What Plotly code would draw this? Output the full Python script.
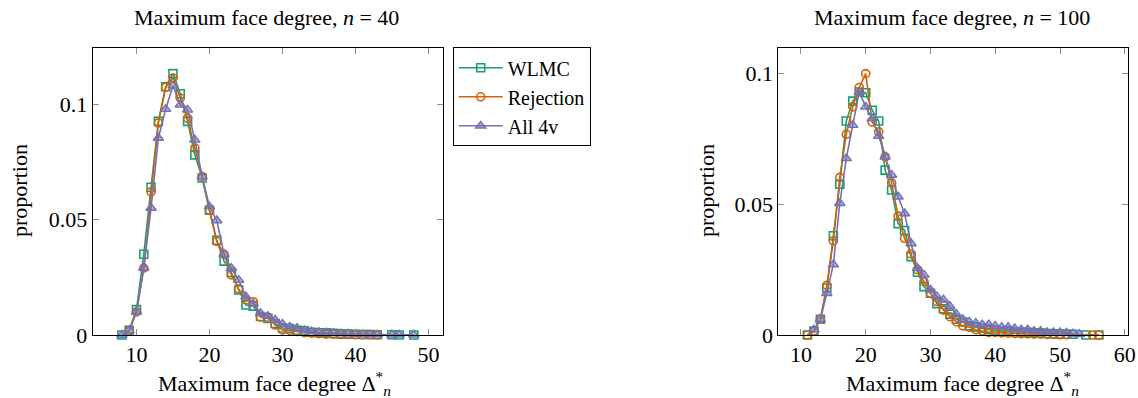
import plotly.graph_objects as go

# ---- n = 40 ----
x40_wlmc = list(range(8, 44)) + [45, 46, 48]
y40_wlmc = [0.0, 0.002, 0.011, 0.035, 0.064, 0.0925, 0.1075, 0.1132, 0.1045, 0.0925,
            0.078, 0.068, 0.054, 0.041, 0.032, 0.027, 0.0195, 0.013, 0.0125, 0.008,
            0.0072, 0.005, 0.003, 0.0028, 0.002, 0.0018, 0.0012, 0.001, 0.0009, 0.0007,
            0.0005, 0.0004, 0.0003, 0.0002, 0.0002, 0.0001, 0.0001, 0.0, 0.0]

x40_rej = list(range(9, 44))
y40_rej = [0.002, 0.010, 0.029, 0.062, 0.0918, 0.1073, 0.1113, 0.1026, 0.0939, 0.0809,
           0.0686, 0.054, 0.0405, 0.035, 0.026, 0.020, 0.0152, 0.0144, 0.0077, 0.0077,
           0.0043, 0.0022, 0.002, 0.0015, 0.001, 0.0008, 0.0006, 0.0004, 0.0003, 0.0002,
           0.0002, 0.0001, 0.0001, 0.0001, 0.0001]

x40_all = list(range(8, 44)) + [45, 46, 48]
y40_all = [0.0, 0.002, 0.010, 0.029, 0.055, 0.0853, 0.0978, 0.1079, 0.0997, 0.0975,
           0.0845, 0.0686, 0.0556, 0.0496, 0.035, 0.0289, 0.0238, 0.0166, 0.0136, 0.0094,
           0.0082, 0.0065, 0.0048, 0.0035, 0.003, 0.002, 0.0015, 0.0012, 0.001, 0.0008,
           0.0006, 0.0005, 0.0004, 0.0003, 0.0002, 0.0002, 0.0001, 0.0001, 0.0001]

# ---- n = 100 ----
x100_wlmc = list(range(11, 53)) + [54, 56]
y100_wlmc = [0.0, 0.0015, 0.006, 0.018, 0.038, 0.0577, 0.0819, 0.0895, 0.093, 0.0927,
             0.086, 0.0819, 0.0631, 0.0555, 0.0426, 0.040, 0.030, 0.024, 0.0185, 0.016,
             0.012, 0.010, 0.008, 0.006, 0.005, 0.0035, 0.003, 0.0025, 0.002, 0.0018,
             0.0015, 0.0015, 0.0012, 0.001, 0.001, 0.0008, 0.0007, 0.0006, 0.0005, 0.0004,
             0.0003, 0.0003, 0.0, 0.0]

x100_rej = list(range(11, 52)) + [55, 56]
y100_rej = [0.0, 0.0015, 0.006, 0.019, 0.036, 0.0603, 0.0768, 0.0873, 0.0947, 0.1,
            0.0815, 0.0777, 0.0682, 0.0582, 0.0455, 0.037, 0.031, 0.025, 0.0204, 0.016,
            0.0128, 0.0095, 0.007, 0.005, 0.0035, 0.003, 0.002, 0.0015, 0.001, 0.001,
            0.0008, 0.0007, 0.0006, 0.0005, 0.0004, 0.0003, 0.0003, 0.0002, 0.0002, 0.0001,
            0.0001, 0.0, 0.0]

x100_all = list(range(12, 54))
y100_all = [0.002, 0.006, 0.016, 0.027, 0.0504, 0.0676, 0.0803, 0.093, 0.0873, 0.0828,
            0.0761, 0.0682, 0.0612, 0.0529, 0.0465, 0.035, 0.0255, 0.023, 0.0173, 0.0147,
            0.0135, 0.011, 0.008, 0.006, 0.005, 0.0045, 0.004, 0.004, 0.0035, 0.003,
            0.003, 0.0025, 0.002, 0.002, 0.0015, 0.0015, 0.001, 0.001, 0.001, 0.0008,
            0.0005, 0.0003]

series_names = ["WLMC", "Rejection", "All 4v"]
colors = ["#1b9e77", "#d95f02", "#7570b3"]
FONT = "Liberation Serif"
FS = 22

panels = [
    ("x", "y", [(x40_wlmc, y40_wlmc), (x40_rej, y40_rej), (x40_all, y40_all)]),
    ("x2", "y2", [(x100_wlmc, y100_wlmc), (x100_rej, y100_rej), (x100_all, y100_all)]),
]

marker_styles = [
    dict(symbol="square-open", size=8, line=dict(width=1.6, color=colors[0])),
    dict(symbol="circle-open", size=8, line=dict(width=1.6, color=colors[1])),
    dict(symbol="triangle-up", size=9, color="rgba(117,112,179,0.55)",
         line=dict(width=1.4, color=colors[2])),
]

fig = go.Figure()
for p, (xa, ya, data) in enumerate(panels):
    for i, (xs, ys) in enumerate(data):
        m = dict(marker_styles[i])
        if "color" not in m:
            m["color"] = colors[i]
        fig.add_trace(go.Scatter(
            x=xs, y=ys, xaxis=xa, yaxis=ya, mode="lines+markers",
            name=series_names[i], showlegend=(p == 0),
            line=dict(color=colors[i], width=1.6),
            marker=m, cliponaxis=False,
        ))

W, H = 1138, 398
def px_x(v):
    return v / W
def px_y(v):
    return 1 - v / H

axis_common = dict(
    showline=True, linecolor="black", linewidth=1, mirror="allticks",
    ticks="inside", ticklen=6, tickwidth=1, tickcolor="#8c8c8c",
    showgrid=False, zeroline=False, automargin=False,
    tickfont=dict(family=FONT, size=FS, color="black"),
)

fig.update_layout(
    template="none",
    width=W, height=H, autosize=False,
    margin=dict(l=0, r=0, t=0, b=0, pad=0),
    paper_bgcolor="white", plot_bgcolor="white",
    font=dict(family=FONT, size=FS, color="black"),
    xaxis=dict(domain=[px_x(92.7), px_x(443)], range=[4, 52],
               tickvals=[10, 20, 30, 40, 50], anchor="y", **axis_common),
    yaxis=dict(domain=[px_y(335), px_y(47.5)], range=[0, 0.1245],
               tickvals=[0, 0.05, 0.1], ticktext=["0", "0.05", "0.1"],
               anchor="x", **axis_common),
    xaxis2=dict(domain=[px_x(778.3), px_x(1128)], range=[6.5, 60.5],
                tickvals=[10, 20, 30, 40, 50, 60], anchor="y2", **axis_common),
    yaxis2=dict(domain=[px_y(335), px_y(47.5)], range=[0, 0.11],
                tickvals=[0, 0.05, 0.1], ticktext=["0", "0.05", "0.1"],
                anchor="x2", **axis_common),
    legend=dict(x=px_x(452.7), y=px_y(47.3), xanchor="left", yanchor="top",
                bordercolor="black", borderwidth=1, bgcolor="white",
                font=dict(family=FONT, size=20), tracegroupgap=0,
                itemwidth=44),
)

annotations = [
    dict(text="Maximum face degree, <i>n</i> = 40", x=px_x(266), y=px_y(17)),
    dict(text="Maximum face degree, <i>n</i> = 100", x=px_x(952), y=px_y(17)),
    dict(text="Maximum face degree Δ<sup>*</sup><sub><i>n</i></sub>", x=px_x(274), y=px_y(383)),
    dict(text="Maximum face degree Δ<sup>*</sup><sub><i>n</i></sub>", x=px_x(962), y=px_y(383)),
    dict(text="proportion", x=px_x(19), y=px_y(191), textangle=-90),
    dict(text="proportion", x=px_x(706), y=px_y(191), textangle=-90),
]
for a in annotations:
    fig.add_annotation(xref="paper", yref="paper", showarrow=False,
                       xanchor="center", yanchor="middle",
                       font=dict(family=FONT, size=FS, color="black"), **a)

fig.write_html("out.html")
